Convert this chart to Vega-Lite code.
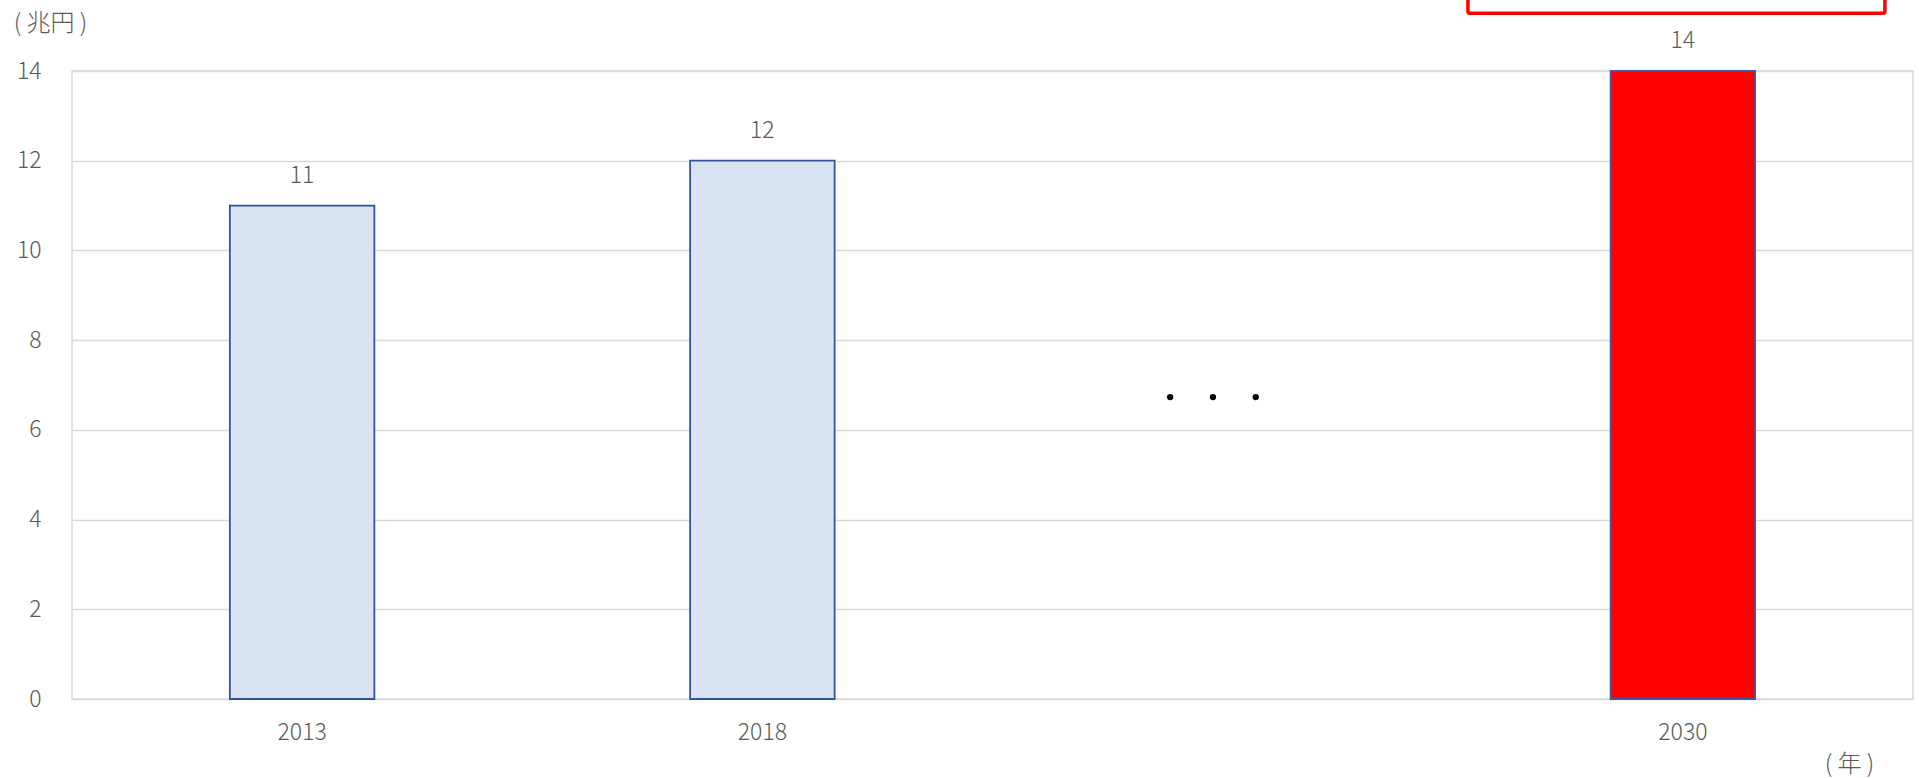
{
  "$schema": "https://vega.github.io/schema/vega-lite/v6.json",
  "autosize": {"type": "none"},
  "width": 1841,
  "height": 628,
  "padding": {"left": 72, "top": 71, "right": 6, "bottom": 79},
  "background": "#ffffff",
  "config": {
    "view": {"stroke": "#d9d9d9", "strokeWidth": 1.5},
    "font": "Noto Sans CJK JP",
    "axis": {"labelFont": "Noto Sans CJK JP", "titleFont": "Noto Sans CJK JP"}
  },
  "datasets": {
    "bars": [
      {"cat": "2013", "value": 11, "kind": "past"},
      {"cat": "2018", "value": 12, "kind": "past"},
      {"cat": "2030", "value": 14, "kind": "target"}
    ],
    "dots": [
      {"pos": 2.386, "value": 6.73},
      {"pos": 2.479, "value": 6.73},
      {"pos": 2.572, "value": 6.73}
    ],
    "box": [
      {"x1": 3.033, "x2": 3.939, "y1": 15.29, "y2": 17.5}
    ]
  },
  "layer": [
    {
      "data": {"name": "bars"},
      "layer": [
        {
          "mark": {"type": "bar", "strokeWidth": 1.8},
          "encoding": {
            "x": {
              "field": "cat", "type": "nominal", "sort": null,
              "scale": {"domain": ["2013", "2018", "…", "2030"], "paddingInner": 0.686, "paddingOuter": 0.343},
              "axis": {
                "title": "(\u00a0年\u00a0)", "titleFontSize": 24, "titleFontWeight": 300, "titleColor": "#595959",
                "titleX": 1777, "titleY": 65, "titleAlign": "center", "titleBaseline": "middle", "titleAnchor": null,
                "labelAngle": 0, "labelFontSize": 23, "labelFontWeight": 300, "labelColor": "#595959", "labelPadding": 22,
                "labelExpr": "datum.value == '…' ? '' : datum.value",
                "ticks": false, "domain": false, "grid": false
              }
            },
            "y": {
              "field": "value", "type": "quantitative",
              "scale": {"domain": [0, 14], "nice": false},
              "axis": {
                "values": [0, 2, 4, 6, 8, 10, 12, 14],
                "title": "(\u00a0兆円\u00a0)", "titleFontSize": 24, "titleFontWeight": 300, "titleColor": "#595959",
                "titleAngle": 0, "titleX": -22, "titleY": -48, "titleAlign": "center", "titleBaseline": "middle", "titleAnchor": null,
                "labelFontSize": 23, "labelFontWeight": 300, "labelColor": "#595959", "labelPadding": 31,
                "ticks": false, "domain": false,
                "gridColor": "#d9d9d9", "gridWidth": 1.5
              }
            },
            "color": {
              "field": "kind", "type": "nominal", "legend": null,
              "scale": {"domain": ["past", "target"], "range": ["#dae3f3", "#ff0000"]}
            },
            "stroke": {
              "field": "kind", "type": "nominal", "legend": null,
              "scale": {"domain": ["past", "target"], "range": ["#2f55a0", "#3b5ba5"]}
            }
          }
        },
        {
          "mark": {"type": "text", "baseline": "alphabetic", "dy": -23, "fontSize": 23, "fontWeight": 300, "color": "#595959"},
          "encoding": {
            "x": {"field": "cat", "type": "nominal", "sort": null, "scale": {"domain": ["2013", "2018", "…", "2030"]}},
            "y": {"field": "value", "type": "quantitative", "scale": {"domain": [0, 14], "nice": false}},
            "text": {"field": "value", "type": "quantitative"}
          }
        }
      ]
    },
    {
      "layer": [
        {
          "data": {"name": "dots"},
          "mark": {"type": "point", "filled": true, "color": "#000000", "size": 40, "opacity": 1},
          "encoding": {
            "x": {"field": "pos", "type": "quantitative", "scale": {"domain": [0, 4], "nice": false, "zero": false}, "axis": null},
            "y": {"field": "value", "type": "quantitative", "scale": {"domain": [0, 14], "nice": false}}
          }
        },
        {
          "data": {"name": "box"},
          "mark": {"type": "rect", "fill": null, "fillOpacity": 0, "stroke": "#ff0000", "strokeWidth": 3.5, "cornerRadius": 2, "clip": false},
          "encoding": {
            "x": {"field": "x1", "type": "quantitative", "scale": {"domain": [0, 4], "nice": false, "zero": false}, "axis": null},
            "x2": {"field": "x2"},
            "y": {"field": "y1", "type": "quantitative", "scale": {"domain": [0, 14], "nice": false}},
            "y2": {"field": "y2"}
          }
        }
      ]
    }
  ],
  "resolve": {"scale": {"x": "independent", "color": "independent", "stroke": "independent"}}
}
